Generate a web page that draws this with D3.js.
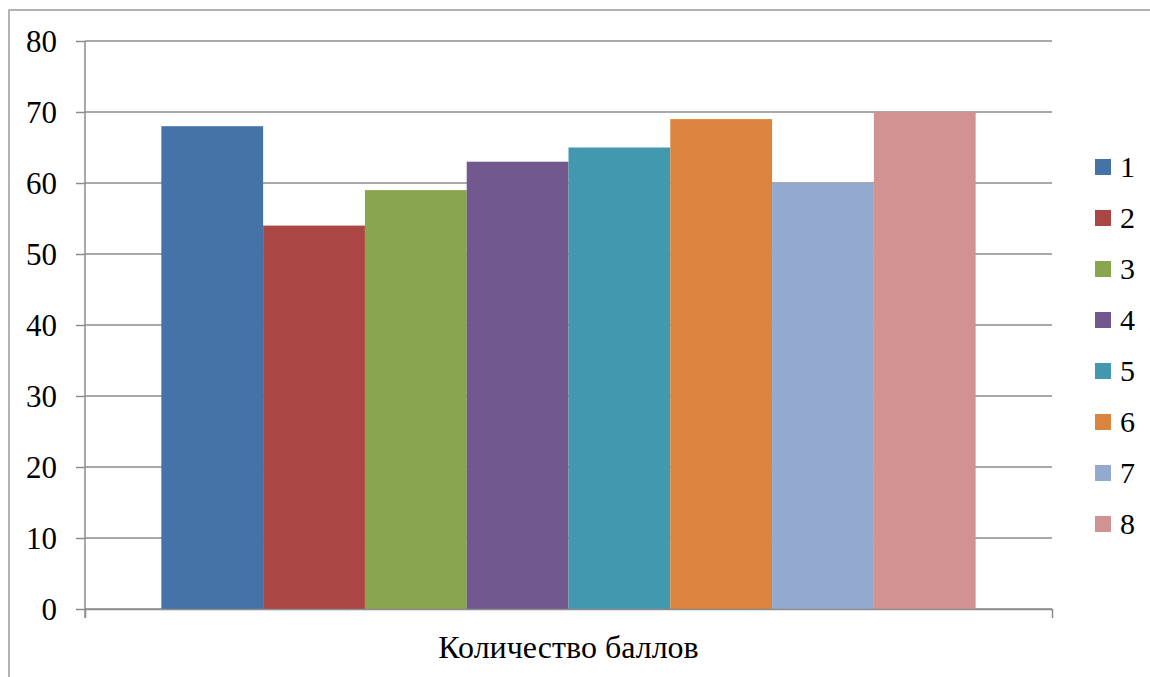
<!DOCTYPE html>
<html>
<head>
<meta charset="utf-8">
<script src="https://cdn.jsdelivr.net/npm/d3@7"></script>
</head>
<body style="margin:0">
<svg id="chart" width="1150" height="677" style="font-family: 'Liberation Serif', 'Times New Roman', serif;"></svg>
<script>
// Scores per group
const series = ["1", "2", "3", "4", "5", "6", "7", "8"];
const values = [68, 54, 59, 63, 65, 69, 60, 70];
const colors = ["#4572A7", "#AA4643", "#89A54E", "#71588F", "#4198AF", "#DB843D", "#93A9CF", "#D19392"];
const category = ["Количество баллов"];
const yTicks = [0, 10, 20, 30, 40, 50, 60, 70, 80];

const svg = d3.select("#chart");
const gridColor = "#8c8c8c";

const plot = { left: 85, right: 1052, top: 41, bottom: 609 };

function serifText(sel, size) {
  sel.style("font-family", "'Liberation Serif'")
     .style("font-size", size + "px")
     .style("fill", "#000");
}

// Outer chart frame
svg.append("rect")
  .attr("x", 9).attr("y", 10)
  .attr("width", 1160).attr("height", 700)
  .attr("fill", "none").attr("stroke", "#9a9a9a").attr("stroke-width", 1.5);

const y = d3.scaleLinear().domain([0, 80]).range([plot.bottom, plot.top]);

const x0 = d3.scaleBand().domain(category)
  .range([plot.left, plot.right])
  .paddingInner(0).paddingOuter(0);

// Clustered bars within the single category: gap width 150% of a bar
const groupW = x0.bandwidth();
const barW = groupW / (series.length + 1.5);
const x1 = d3.scaleBand().domain(series)
  .range([x0(category[0]) + barW * 0.75, x0(category[0]) + groupW - barW * 0.75])
  .padding(0);

// Horizontal gridlines
svg.append("g")
  .selectAll("line")
  .data(yTicks)
  .join("line")
  .attr("x1", plot.left).attr("x2", plot.right)
  .attr("y1", d => y(d)).attr("y2", d => y(d))
  .attr("stroke", gridColor).attr("stroke-width", 1.5);

// Y axis line and ticks (labels drawn separately below)
const yAxis = svg.append("g")
  .attr("transform", `translate(${plot.left},0)`)
  .call(d3.axisLeft(y).tickValues(yTicks).tickSize(9).tickFormat("").tickSizeOuter(0));
yAxis.select(".domain").attr("stroke", gridColor).attr("stroke-width", 1.5)
  .attr("d", `M0,${plot.top}V${plot.bottom + 9}`);
yAxis.selectAll(".tick line").attr("stroke", gridColor).attr("stroke-width", 1.5);
yAxis.selectAll(".tick text").remove();

// Y tick labels
svg.append("g")
  .selectAll("text")
  .data(yTicks)
  .join("text")
  .attr("x", plot.left - 28)
  .attr("y", d => y(d) + 11)
  .attr("text-anchor", "end")
  .call(serifText, 31)
  .text(d => d);

// Bars
svg.append("g")
  .selectAll("rect")
  .data(series.map((s, i) => ({ s, v: values[i], c: colors[i] })))
  .join("rect")
  .attr("x", d => x1(d.s))
  .attr("y", d => y(d.v))
  .attr("width", x1.bandwidth())
  .attr("height", d => y(0) - y(d.v))
  .attr("fill", d => d.c);

// X axis line with end ticks
const xAxis = svg.append("g")
  .attr("transform", `translate(0,${plot.bottom})`)
  .call(d3.axisBottom(x0).tickSize(0).tickFormat("").tickSizeOuter(9));
xAxis.select(".domain").attr("stroke", gridColor).attr("stroke-width", 1.5);
xAxis.selectAll(".tick text").remove();

// Category label
svg.append("g")
  .selectAll("text")
  .data(category)
  .join("text")
  .attr("x", d => x0(d) + x0.bandwidth() / 2)
  .attr("y", plot.bottom + 49)
  .attr("text-anchor", "middle")
  .call(serifText, 32)
  .text(d => d);

// Legend
const legend = svg.append("g")
  .selectAll("g")
  .data(series)
  .join("g")
  .attr("transform", (d, i) => `translate(1095,${167 + i * 51})`);
legend.append("rect")
  .attr("x", 0).attr("y", -8).attr("width", 16).attr("height", 16)
  .attr("fill", (d, i) => colors[i]);
legend.append("text")
  .attr("x", 25).attr("y", 10)
  .call(serifText, 30)
  .text(d => d);
</script>
</body>
</html>
